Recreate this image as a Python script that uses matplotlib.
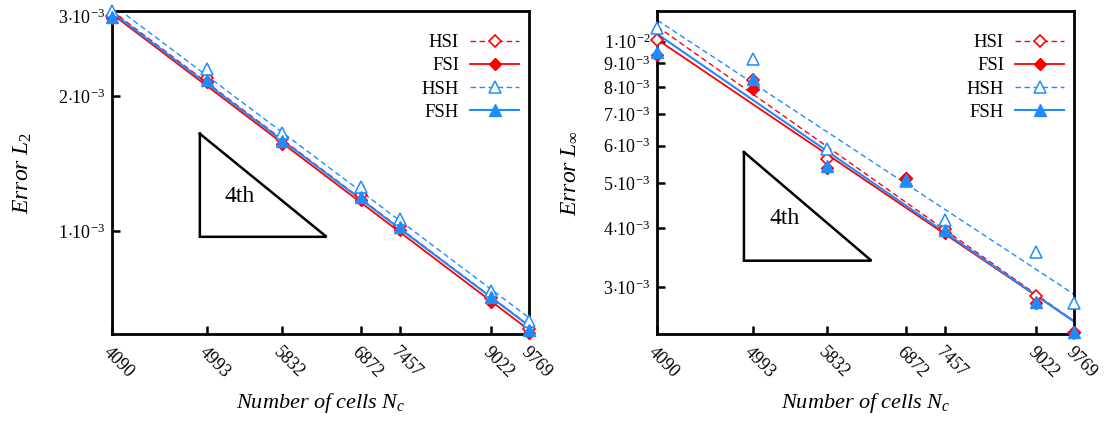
import numpy as np
import matplotlib
matplotlib.use("Agg")
import matplotlib.pyplot as plt
from matplotlib.lines import Line2D
from matplotlib.ticker import FixedLocator, NullLocator

plt.rcParams['font.family'] = ['Liberation Serif', 'DejaVu Serif']
plt.rcParams['mathtext.fontset'] = 'custom'
plt.rcParams['mathtext.rm'] = 'Liberation Serif'
plt.rcParams['mathtext.it'] = 'Liberation Serif:italic'
plt.rcParams['mathtext.bf'] = 'Liberation Serif:bold'

# Number of cells
cells = [4090, 4993, 5832, 6872, 7457, 9022, 9769]
cell_labels = ['4090', '4993', '5832', '6872', '7457', '9022', '9769']

# L2 errors
l2_hsi = [3.01e-3, 2.19e-3, 1.600e-3, 1.203e-3, 1.027e-3, 7.09e-4, 6.05e-4]
l2_fsi = [2.98e-3, 2.15e-3, 1.563e-3, 1.172e-3, 1.005e-3, 6.96e-4, 5.93e-4]
l2_hsh = [3.095e-3, 2.29e-3, 1.650e-3, 1.255e-3, 1.063e-3, 7.36e-4, 6.30e-4]
l2_fsh = [3.00e-3, 2.17e-3, 1.589e-3, 1.192e-3, 1.022e-3, 7.14e-4, 6.02e-4]

# L-infinity errors
li_hsi = [1.008e-2, 8.29e-3, 5.63e-3, 5.10e-3, 3.99e-3, 2.87e-3, 2.40e-3]
li_fsi = [9.37e-3, 7.92e-3, 5.38e-3, 5.12e-3, 3.92e-3, 2.78e-3, 2.41e-3]
li_hsh = [1.071e-2, 9.17e-3, 5.90e-3, 5.05e-3, 4.16e-3, 3.56e-3, 2.78e-3]
li_fsh = [9.49e-3, 8.33e-3, 5.44e-3, 5.08e-3, 3.97e-3, 2.79e-3, 2.41e-3]

series_names = ['HSI', 'FSI', 'HSH', 'FSH']

l2_ticks = [1e-3, 2e-3, 3e-3]
l2_ticklabels = [r'$1{\cdot}10^{-3}$', r'$2{\cdot}10^{-3}$', r'$3{\cdot}10^{-3}$']
li_ticks = [3e-3, 4e-3, 5e-3, 6e-3, 7e-3, 8e-3, 9e-3, 1e-2]
li_ticklabels = [r'$3{\cdot}10^{-3}$', r'$4{\cdot}10^{-3}$', r'$5{\cdot}10^{-3}$',
                 r'$6{\cdot}10^{-3}$', r'$7{\cdot}10^{-3}$', r'$8{\cdot}10^{-3}$',
                 r'$9{\cdot}10^{-3}$', r'$1{\cdot}10^{-2}$']

RED = '#ff0000'
BLUE = '#1e8cff'
styles = {
    'HSI': dict(color=RED, ls=(0, (4, 2.5)), lw=1.0, marker='D', ms=6.5, mfc='white', mew=1.2),
    'FSI': dict(color=RED, ls='-', lw=1.3, marker='D', ms=6.5, mfc=RED, mew=1.0),
    'HSH': dict(color=BLUE, ls=(0, (4, 2.5)), lw=1.0, marker='^', ms=8, mfc='white', mew=1.1),
    'FSH': dict(color=BLUE, ls='-', lw=1.5, marker='^', ms=8, mfc=BLUE, mew=1.0),
}


def draw_panel(ax, data, ylim, yticks, yticklabels, ylabel, tri, text_pos):
    x = np.array(cells, dtype=float)
    xs = np.array([x.min(), x.max()])
    for name, vals in zip(series_names, data):
        st = styles[name]
        # least-squares fit in log-log space
        k, b = np.polyfit(np.log10(x), np.log10(vals), 1)
        ax.plot(xs, 10 ** (b + k * np.log10(xs)), color=st['color'], ls=st['ls'], lw=st['lw'], zorder=2)
    for name, vals in zip(series_names, data):
        st = styles[name]
        ax.plot(x, vals, ls='none', marker=st['marker'], ms=st['ms'], mfc=st['mfc'],
                mec=st['color'], mew=st['mew'], clip_on=False, zorder=3)

    # slope triangle (4th order in h, i.e. slope -2 in N_c)
    tx0, tx1, ty0, slope = tri
    ty1 = ty0 * (tx1 / tx0) ** slope
    ax.plot([tx0, tx0, tx1, tx0], [ty1, ty0, ty0, ty1], color='black', lw=1.8, zorder=2,
            solid_joinstyle='miter')
    ax.text(text_pos[0], text_pos[1], '4th', fontsize=17, ha='center', va='center')

    ax.set_xscale('log')
    ax.set_yscale('log')
    ax.set_xlim(cells[0], cells[-1])
    ax.set_ylim(*ylim)
    ax.xaxis.set_major_locator(FixedLocator(cells))
    ax.xaxis.set_minor_locator(NullLocator())
    ax.set_xticklabels(cell_labels, rotation=-45, ha='left', va='top', rotation_mode='anchor')
    ax.yaxis.set_major_locator(FixedLocator(yticks))
    ax.yaxis.set_minor_locator(NullLocator())
    ax.set_yticklabels(yticklabels)
    ax.tick_params(which='major', direction='in', length=6, width=1.8, labelsize=13, pad=5)
    ax.tick_params(axis='x', pad=7)
    for sp in ax.spines.values():
        sp.set_linewidth(2.0)

    ax.set_xlabel(r'$Number\ of\ cells\ N_c$', fontsize=16, labelpad=7)
    ax.set_ylabel(ylabel, fontsize=17, labelpad=17)

    handles = []
    for name in series_names:
        st = styles[name]
        handles.append(Line2D([], [], color=st['color'], ls=st['ls'], lw=st['lw'],
                              marker=st['marker'], ms=st['ms'], mfc=st['mfc'],
                              mec=st['color'], mew=st['mew']))
    ax.legend(handles, series_names, loc='upper right', frameon=False, markerfirst=False,
              fontsize=13.5, handlelength=2.6, handletextpad=0.6, labelspacing=0.32,
              borderaxespad=0.2, borderpad=0.35, bbox_to_anchor=(1.0, 0.96))


fig = plt.figure(figsize=(11.15, 4.26), dpi=100)
ax1 = fig.add_axes([0.1002, 0.2160, 0.3745, 0.7582])
ax2 = fig.add_axes([0.5895, 0.2160, 0.3740, 0.7582])

draw_panel(ax1, [l2_hsi, l2_fsi, l2_hsh, l2_fsh], (5.9e-4, 3.09e-3), l2_ticks, l2_ticklabels,
           r'$Error\ L_2$', (4915, 6401, 0.971e-3, 2), (5342, 1.193e-3))
draw_panel(ax2, [li_hsi, li_fsi, li_hsh, li_fsh], (2.384e-3, 1.162e-2), li_ticks, li_ticklabels,
           r'$Error\ L_{\infty}$', (4901, 6396, 3.415e-3, 2), (5338, 4.19e-3))

fig.savefig('out.png', dpi=100)
